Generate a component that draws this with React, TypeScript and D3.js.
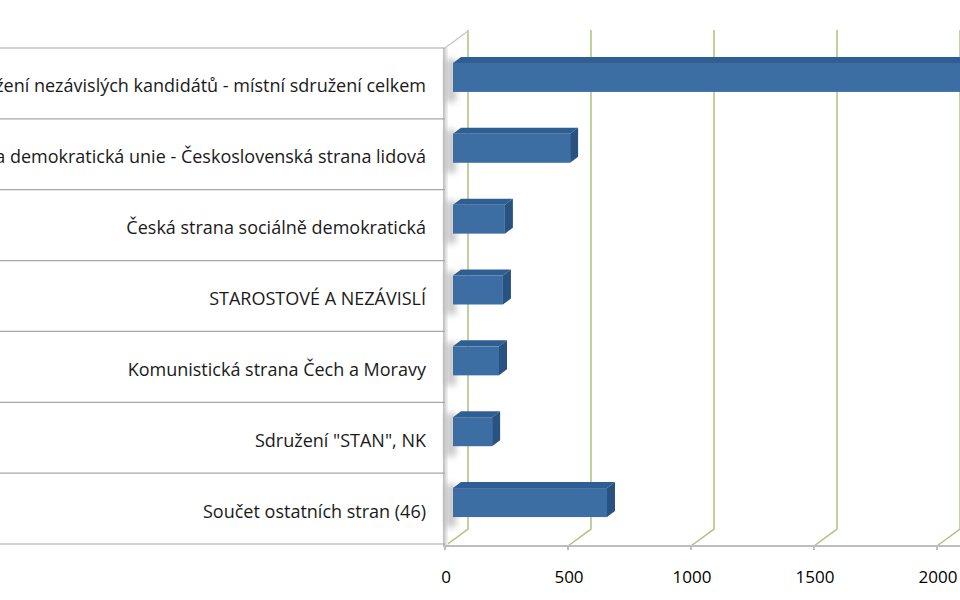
import React from "react";
import * as d3 from "d3";

const categories = [
  "Sdružení nezávislých kandidátů - místní sdružení celkem",
  "Křesťanská a demokratická unie - Československá strana lidová",
  "Česká strana sociálně demokratická",
  "STAROSTOVÉ A NEZÁVISLÍ",
  "Komunistická strana Čech a Moravy",
  'Sdružení "STAN", NK',
  "Součet ostatních stran (46)",
];
const seats = [2300, 476, 211, 203, 187, 159, 626];
const tickValues = [0, 500, 1000, 1500, 2000];

const W = 960;
const H = 600;
const floorY = 546;
const wallTop = 30;
const depthX = 23;
const depthY = -17;
const barDX = 8;
const barDY = -6;
const barH = 29;
const font = "'Open Sans', sans-serif";

const App: React.FC = () => {
  const x = d3.scaleLinear().domain([0, 2000]).range([445, 937]);
  const y = d3.scaleBand<string>().domain(categories).range([48, 544]);
  const xBar = (v: number) => x(v) + barDX;

  return (
    <svg
      width={W}
      height={H}
      style={{ position: "absolute", left: 0, top: 0, background: "#fff" }}
    >
      <defs>
        <linearGradient id="wall" x1="0" x2="1" y1="0" y2="0">
          <stop offset="0" stopColor="#b8b8b8" />
          <stop offset="0.5" stopColor="#dcdcdc" />
          <stop offset="1" stopColor="#f4f4f4" />
        </linearGradient>
        <filter id="blur" x="-50%" y="-50%" width="200%" height="200%">
          <feGaussianBlur stdDeviation="3" />
        </filter>
      </defs>

      {/* gridlines on back wall and floor */}
      {tickValues.map((t) => (
        <polyline
          key={"g" + t}
          points={`${x(t) + depthX},${wallTop} ${x(t) + depthX},${floorY + depthY} ${x(t)},${floorY}`}
          fill="none"
          stroke="#a9c47f"
          strokeWidth={1.5}
        />
      ))}

      {/* side wall */}
      <line x1={445} y1={48} x2={445 + depthX} y2={48 + depthY} stroke="#c8c8c8" strokeWidth={1.5} />
      <rect x={443} y={48} width={5} height={floorY - 48} fill="url(#wall)" />

      {/* floor baseline and ticks */}
      <line x1={443} y1={floorY} x2={W} y2={floorY} stroke="#bdbdbd" strokeWidth={2} />
      {tickValues.map((t) => (
        <g key={"t" + t}>
          <line x1={x(t)} y1={floorY} x2={x(t)} y2={floorY + 4} stroke="#bdbdbd" strokeWidth={2} />
          <text
            x={x(t) + 1}
            y={576}
            textAnchor="middle"
            dominantBaseline="central"
            fontFamily={font}
            fontSize={17}
            fill="#000"
          >
            {t}
          </text>
        </g>
      ))}

      {/* category table */}
      {[...categories.map((c) => y(c)!), 544].map((yy, i) => (
        <line key={"r" + i} x1={0} y1={yy} x2={445} y2={yy} stroke="#a6a6a6" strokeWidth={1.2} />
      ))}
      {categories.map((c) => (
        <text
          key={"l" + c}
          x={426}
          y={y(c)! + y.bandwidth() / 2 + 2}
          textAnchor="end"
          dominantBaseline="central"
          fontFamily={font}
          fontSize={18}
          fill="#1a1a1a"
        >
          {c}
        </text>
      ))}

      {/* bars */}
      {categories.map((c, i) => {
        const top = y(c)! + y.bandwidth() / 2 - 6 - barH / 2;
        const bot = top + barH;
        const x0 = xBar(0);
        const x1 = Math.min(xBar(seats[i]), W + 20);
        return (
          <g key={"b" + c}>
            <rect x={446} y={top - 4} width={10} height={barH + 14} fill="#9a9a9a" opacity={0.55} filter="url(#blur)" />
            <polygon
              points={`${x0},${top} ${x0 + barDX},${top + barDY} ${x1 + barDX},${top + barDY} ${x1},${top}`}
              fill="#2f5e92"
            />
            <polygon
              points={`${x1},${top} ${x1 + barDX},${top + barDY} ${x1 + barDX},${bot + barDY} ${x1},${bot}`}
              fill="#28527f"
            />
            <rect x={x0} y={top} width={x1 - x0} height={barH} fill="#3c6ea3" />
          </g>
        );
      })}
    </svg>
  );
};

export default App;
